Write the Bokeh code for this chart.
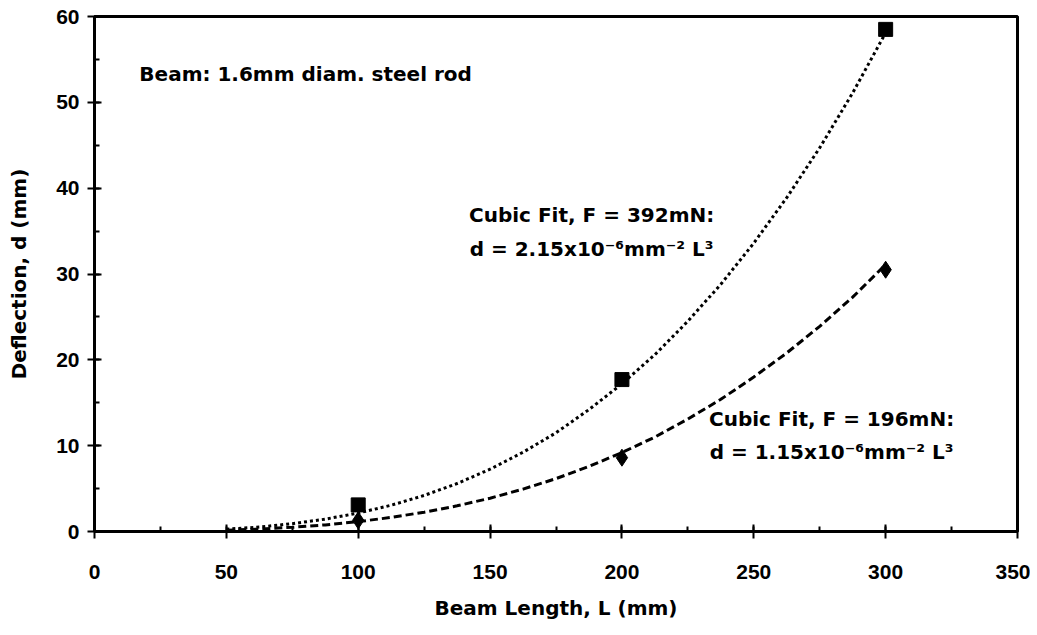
from bokeh.plotting import figure
from bokeh.models import SingleIntervalTicker, Range1d, Label
from bokeh.embed import file_html
from bokeh.resources import INLINE

# Measured data points
lengths = [100, 200, 300]
defl_392 = [3.1, 17.7, 58.5]
defl_196 = [1.3, 8.6, 30.5]

# Cubic fit curves
fit_x = [50, 62.5, 75, 87.5, 100, 112.5, 125, 137.5, 150, 162.5, 175, 187.5, 200,
         212.5, 225, 237.5, 250, 262.5, 275, 287.5, 300]
fit_392 = [0.27, 0.52, 0.91, 1.44, 2.15, 3.06, 4.20, 5.59, 7.26, 9.23, 11.5, 14.2, 17.2,
           20.6, 24.5, 28.8, 33.6, 38.9, 44.7, 51.1, 58.1]
fit_196 = [0.14, 0.28, 0.49, 0.77, 1.15, 1.64, 2.25, 2.99, 3.88, 4.94, 6.16, 7.58, 9.2,
           11.0, 13.1, 15.4, 18.0, 20.8, 23.9, 27.3, 31.1]

FONT = "DejaVu Sans"
TICKFONT = "Liberation Sans"

p = figure(width=1030, height=627, output_backend="svg", toolbar_location=None,
           x_range=Range1d(0, 350), y_range=Range1d(0, 60),
           min_border_left=94, min_border_right=13, min_border_top=16, min_border_bottom=96)
p.grid.visible = False
p.background_fill_color = "white"
p.border_fill_color = "white"
p.outline_line_color = "black"
p.outline_line_width = 3

p.xaxis.ticker = SingleIntervalTicker(interval=50, num_minor_ticks=2)
p.yaxis.ticker = SingleIntervalTicker(interval=10, num_minor_ticks=2)

for ax in (p.xaxis, p.yaxis):
    ax.axis_line_width = 3
    ax.axis_line_color = "black"
    ax.major_tick_line_width = 2
    ax.major_tick_in = 7
    ax.major_tick_out = 7
    ax.minor_tick_line_width = 2
    ax.minor_tick_in = 5
    ax.minor_tick_out = 0
    ax.major_label_text_font = TICKFONT
    ax.major_label_text_font_style = "bold"
    ax.major_label_text_font_size = "21px"
    ax.major_label_text_color = "black"
    ax.axis_label_text_font = FONT
    ax.axis_label_text_font_style = "bold"
    ax.axis_label_text_font_size = "20px"
    ax.axis_label_text_color = "black"

p.xaxis.axis_label = "Beam Length, L (mm)"
p.yaxis.axis_label = "Deflection, d (mm)"
p.xaxis.major_label_standoff = 26
p.xaxis.axis_label_standoff = 14
p.yaxis.major_label_standoff = 8
p.yaxis.axis_label_standoff = 22

p.line(fit_x, fit_392, line_color="black", line_width=3, line_dash="3 3")
p.line(fit_x, fit_196, line_color="black", line_width=3, line_dash="8 4")

p.scatter(lengths, defl_392, marker="square", size=14, color="black")
p.scatter(lengths, defl_196, marker="diamond", size=17, color="black")

def lab(x, y, t, align="left"):
    p.add_layout(Label(x=x, y=y, text=t, text_font=FONT, text_font_style="bold",
                       text_font_size="20px", text_color="black", text_align=align,
                       text_baseline="middle"))

lab(17, 53.3, "Beam: 1.6mm diam. steel rod")
lab(188.5, 36.9, "Cubic Fit, F = 392mN:", "center")
lab(188.5, 32.9, "d = 2.15x10\u207b\u2076mm\u207b\u00b2 L\u00b3", "center")
lab(279.5, 13.05, "Cubic Fit, F = 196mN:", "center")
lab(279.5, 9.3, "d = 1.15x10\u207b\u2076mm\u207b\u00b2 L\u00b3", "center")

open("out.html", "w").write(file_html(p, INLINE))
